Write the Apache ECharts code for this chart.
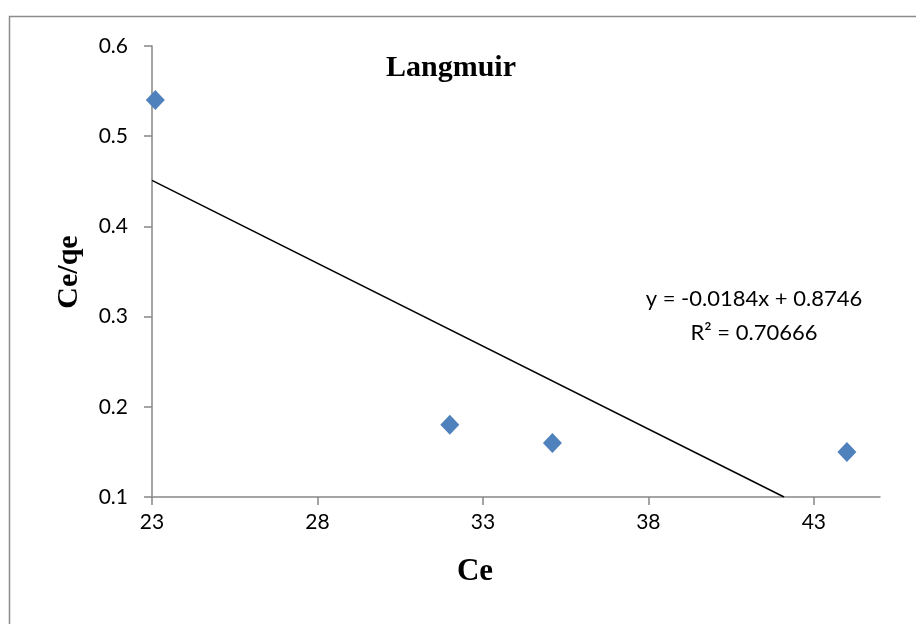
<!DOCTYPE html>
<html>
<head>
<meta charset="utf-8">
<script src="https://cdn.jsdelivr.net/npm/echarts@6/dist/echarts.min.js"></script>
<style>
html,body{margin:0;padding:0;background:#fff;}
#chart{width:916px;height:624px;}
</style>
</head>
<body>
<div id="chart"></div>
<script>
const ceValues = [23.1, 32, 35.1, 44];
const ceQeValues = [0.54, 0.18, 0.16, 0.15];
const trendX = [23, 42.1];
const trendY = [0.451, 0.1];
const xTicks = [23, 28, 33, 38, 43];
const yTicks = [0.1, 0.2, 0.3, 0.4, 0.5, 0.6];
const titleText = 'Langmuir';
const xTitle = 'Ce';
const yTitle = 'Ce/qe';
const equationText = 'y = -0.0184x + 0.8746';
const r2Text = 'R² = 0.70666';

const chart = echarts.init(document.getElementById('chart'));
const axisColor = '#868686';
const labelFont = 'Lato, "Open Sans", sans-serif';
const serif = '"Liberation Serif", serif';
chart.setOption({
  animation: false,
  backgroundColor: '#fff',
  grid: {left: 152, top: 46, right: 36, bottom: 127},
  xAxis: {
    type: 'value', min: 23, max: 45,
    axisLine: {show: true, lineStyle: {color: axisColor, width: 1.5}},
    axisTick: {show: true, length: 8, customValues: xTicks, lineStyle: {color: axisColor, width: 1.5}},
    axisLabel: {customValues: xTicks, color: '#000', fontSize: 21, fontFamily: labelFont, margin: 15},
    splitLine: {show: false}
  },
  yAxis: {
    type: 'value', min: 0.1, max: 0.6,
    axisLine: {show: true, lineStyle: {color: axisColor, width: 1.5}},
    axisTick: {show: true, length: 8, customValues: yTicks, lineStyle: {color: axisColor, width: 1.5}},
    axisLabel: {customValues: yTicks, color: '#000', fontSize: 21, fontFamily: labelFont, margin: 24,
      formatter: v => (Math.round(v * 10) / 10).toFixed(1)},
    splitLine: {show: false}
  },
  graphic: [
    {type: 'rect', shape: {x: 9.5, y: 16.5, width: 930, height: 640}, style: {fill: 'none', stroke: '#8c8c8c', lineWidth: 1.5}, silent: true},
    {type: 'text', x: 451, y: 68, style: {text: titleText, fontSize: 30, fontWeight: 'bold', fontFamily: serif, fill: '#000', align: 'center', verticalAlign: 'middle'}},
    {type: 'text', x: 475, y: 572, style: {text: xTitle, fontSize: 31, fontWeight: 'bold', fontFamily: serif, fill: '#000', align: 'center', verticalAlign: 'middle'}},
    {type: 'text', x: 69, y: 272, rotation: Math.PI / 2, style: {text: yTitle, fontSize: 30, fontWeight: 'bold', fontFamily: serif, fill: '#000', align: 'center', verticalAlign: 'middle'}},
    {type: 'text', x: 754, y: 299, style: {text: equationText, fontSize: 22, fontFamily: labelFont, fill: '#000', align: 'center', verticalAlign: 'middle'}},
    {type: 'text', x: 754, y: 333, style: {text: r2Text, fontSize: 22, fontFamily: labelFont, fill: '#000', align: 'center', verticalAlign: 'middle'}}
  ],
  series: [
    {
      type: 'line',
      data: trendX.map((x, i) => [x, trendY[i]]),
      symbol: 'none',
      lineStyle: {color: '#000', width: 1.5},
      z: 2
    },
    {
      type: 'scatter',
      data: ceValues.map((x, i) => [x, ceQeValues[i]]),
      symbol: 'diamond',
      symbolSize: [19, 20],
      itemStyle: {color: '#4F81BD', opacity: 1},
      z: 3
    }
  ]
});
</script>
</body>
</html>
